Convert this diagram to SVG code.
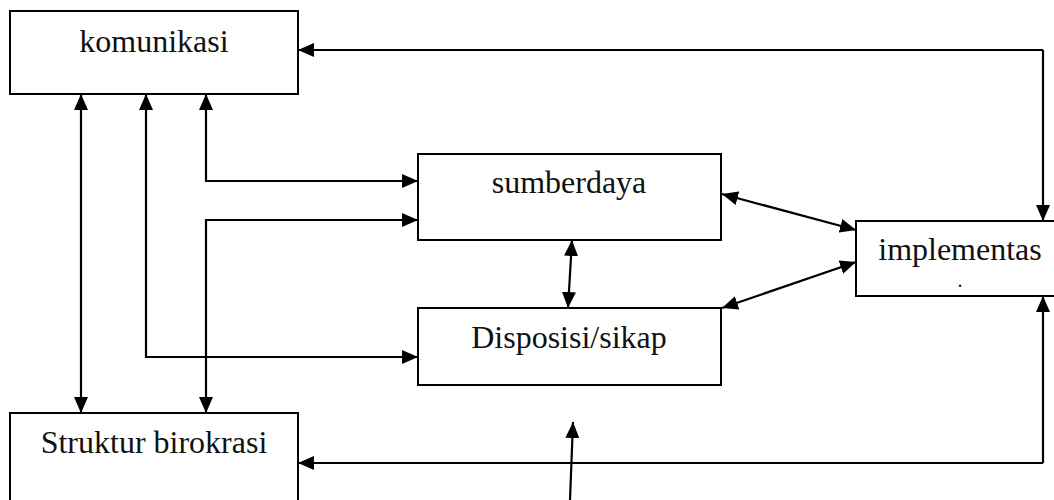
<svg xmlns="http://www.w3.org/2000/svg" width="1054" height="500" viewBox="0 0 1054 500">
<style>
.box{fill:#fff;stroke:#000;stroke-width:2}
.lbl{font-family:"Liberation Serif","Times New Roman","DejaVu Serif",serif;font-size:32px;fill:#111;text-anchor:middle}
.ln{fill:none;stroke:#000;stroke-width:2.2}
</style>
<defs>
<marker id="ah" viewBox="0 0 16 14" refX="16" refY="7" markerWidth="16" markerHeight="14" markerUnits="userSpaceOnUse" orient="auto-start-reverse">
<path d="M0,0 L16,7 L0,14 Z" fill="#000"/>
</marker>
</defs>
<rect width="1054" height="500" fill="#fff"/>
<g id="komunikasi"><rect class="box" x="10" y="11" width="288" height="83"/><text class="lbl" x="154" y="52">komunikasi</text></g>
<g id="sumberdaya"><rect class="box" x="418" y="154" width="303" height="86"/><text class="lbl" x="569" y="193">sumberdaya</text></g>
<g id="disposisi"><rect class="box" x="418" y="308" width="303" height="77"/><text class="lbl" x="569" y="348">Disposisi/sikap</text></g>
<g id="implementasi"><rect class="box" x="856" y="221" width="210" height="75"/><text class="lbl" x="960" y="260">implementas</text><text class="lbl" x="960" y="287" style="font-size:20px">.</text></g>
<g id="struktur"><rect class="box" x="10" y="413" width="288" height="100"/><text class="lbl" x="154" y="453">Struktur birokrasi</text></g>
<g id="connectors">
<path class="ln" d="M1043,50 L298,50" marker-end="url(#ah)"/>
<path class="ln" d="M1043,50 L1043,221" marker-end="url(#ah)"/>
<path class="ln" d="M1043,463 L1043,296" marker-end="url(#ah)"/>
<path class="ln" d="M1043,463 L298,463" marker-end="url(#ah)"/>
<path class="ln" d="M81,94 L81,413" marker-start="url(#ah)" marker-end="url(#ah)"/>
<path class="ln" d="M206,94 L206,181 L418,181" marker-start="url(#ah)" marker-end="url(#ah)"/>
<path class="ln" d="M418,220 L206,220 L206,413" marker-start="url(#ah)" marker-end="url(#ah)"/>
<path class="ln" d="M146,94 L146,357 L418,357" marker-start="url(#ah)" marker-end="url(#ah)"/>
<path class="ln" d="M572,240 L568,308" marker-start="url(#ah)" marker-end="url(#ah)"/>
<path class="ln" d="M722,194 L856,230" marker-start="url(#ah)" marker-end="url(#ah)"/>
<path class="ln" d="M722,308 L856,262" marker-start="url(#ah)" marker-end="url(#ah)"/>
<path class="ln" d="M570,500 L573,422" marker-end="url(#ah)"/>
</g>
</svg>
